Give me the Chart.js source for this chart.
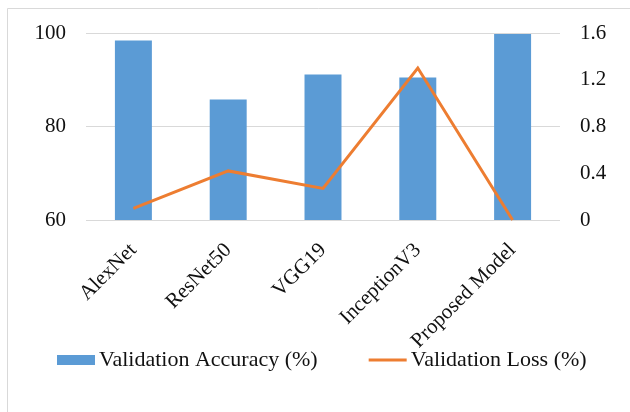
<!DOCTYPE html>
<html>
<head>
<meta charset="utf-8">
<script src="https://cdn.jsdelivr.net/npm/chart.js@4"></script>
<style>
  html, body { margin: 0; padding: 0; background: #fff; overflow: hidden; }
  #wrap { width: 630px; height: 412px; }
</style>
</head>
<body>
<div id="wrap"><canvas id="c" width="630" height="412"></canvas></div>
<script>
// Model names along the category axis
const models = ['AlexNet', 'ResNet50', 'VGG19', 'InceptionV3', 'Proposed Model'];
// Validation accuracy (%) per model, left axis
const valAccuracy = [98.4, 85.8, 91.1, 90.5, 99.8];
// Validation loss per model, right axis
const valLoss = [0.10, 0.42, 0.27, 1.30, 0.0];
// Tick values shown on each value axis
const accTicks = [60, 80, 100];
const lossTicks = [0, 0.4, 0.8, 1.2, 1.6];
const lossTickLabels = ['0', '0.4', '0.8', '1.2', '1.6'];

const BLUE = '#5B9BD5';
const ORANGE = '#ED7D31';
const GRID = '#d9d9d9';
const TEXT = '#111111';
const FONT = 'Liberation Serif';

// Thin frame along the top and left edge of the figure
const framePlugin = {
  id: 'frame',
  beforeDraw(chart) {
    const ctx = chart.ctx;
    ctx.save();
    ctx.fillStyle = '#fff';
    ctx.fillRect(0, 0, chart.width, chart.height);
    ctx.strokeStyle = GRID;
    ctx.lineWidth = 1;
    ctx.beginPath();
    ctx.moveTo(7.5, chart.height);
    ctx.lineTo(7.5, 8.5);
    ctx.lineTo(chart.width, 8.5);
    ctx.stroke();
    ctx.restore();
  }
};

// Legend row under the category labels: a filled swatch for bars, a stroke for lines
const legendRow = {
  id: 'legendRow',
  afterDraw(chart, args, opts) {
    const ctx = chart.ctx;
    ctx.save();
    ctx.font = `${opts.fontSize}px "${FONT}"`;
    ctx.textBaseline = 'middle';
    ctx.textAlign = 'left';
    let x = opts.x;
    const y = opts.y;
    chart.data.datasets.forEach(ds => {
      if (ds.type === 'bar') {
        ctx.fillStyle = ds.backgroundColor;
        ctx.fillRect(x, y - opts.boxHeight / 2, opts.swatch, opts.boxHeight);
      } else {
        ctx.strokeStyle = ds.borderColor;
        ctx.lineWidth = ds.borderWidth;
        ctx.beginPath();
        ctx.moveTo(x, y);
        ctx.lineTo(x + opts.swatch, y);
        ctx.stroke();
      }
      x += opts.swatch + opts.textGap;
      ctx.fillStyle = TEXT;
      ctx.fillText(ds.label, x, y);
      x += ctx.measureText(ds.label).width + opts.itemGap;
    });
    ctx.restore();
  }
};

new Chart(document.getElementById('c'), {
  data: {
    labels: models,
    datasets: [
      {
        type: 'bar',
        label: 'Validation Accuracy (%)',
        data: valAccuracy,
        backgroundColor: BLUE,
        borderWidth: 0,
        yAxisID: 'yAcc',
        categoryPercentage: 1.0,
        barPercentage: 0.39,
        order: 1
      },
      {
        type: 'line',
        label: 'Validation Loss (%)',
        data: valLoss,
        borderColor: ORANGE,
        backgroundColor: ORANGE,
        borderWidth: 3,
        pointRadius: 0,
        tension: 0,
        clip: false,
        yAxisID: 'yLoss',
        order: 0
      }
    ]
  },
  options: {
    responsive: false,
    animation: false,
    devicePixelRatio: 1,
    layout: { padding: { top: 33, bottom: 61, left: 0, right: 0 } },
    plugins: {
      tooltip: { enabled: false },
      legend: { display: false },
      legendRow: { x: 57, y: 360, swatch: 38, boxHeight: 10, textGap: 4, itemGap: 51, fontSize: 22 }
    },
    scales: {
      x: {
        type: 'category',
        grid: { display: false, drawTicks: false },
        border: { display: false },
        ticks: {
          font: { family: FONT, size: 21 },
          color: TEXT,
          autoSkip: false,
          maxRotation: 45,
          minRotation: 45,
          padding: 18
        },
        afterFit(scale) { scale.height = 131; }
      },
      yAcc: {
        position: 'left',
        min: 60,
        max: 100,
        afterBuildTicks(scale) { scale.ticks = accTicks.map(v => ({ value: v })); },
        grid: { color: GRID, lineWidth: 1, drawTicks: false },
        border: { display: false },
        ticks: {
          font: { family: FONT, size: 21 },
          color: TEXT,
          padding: 20
        },
        afterFit(scale) { scale.width = 86; }
      },
      yLoss: {
        position: 'right',
        min: 0,
        max: 1.6,
        afterBuildTicks(scale) { scale.ticks = lossTicks.map(v => ({ value: v })); },
        grid: { display: false, drawTicks: false },
        border: { display: false },
        ticks: {
          font: { family: FONT, size: 21 },
          color: TEXT,
          padding: 20,
          callback(value, index) { return lossTickLabels[index]; }
        },
        afterFit(scale) { scale.width = 70; }
      }
    }
  },
  plugins: [framePlugin, legendRow]
});
</script>
</body>
</html>
